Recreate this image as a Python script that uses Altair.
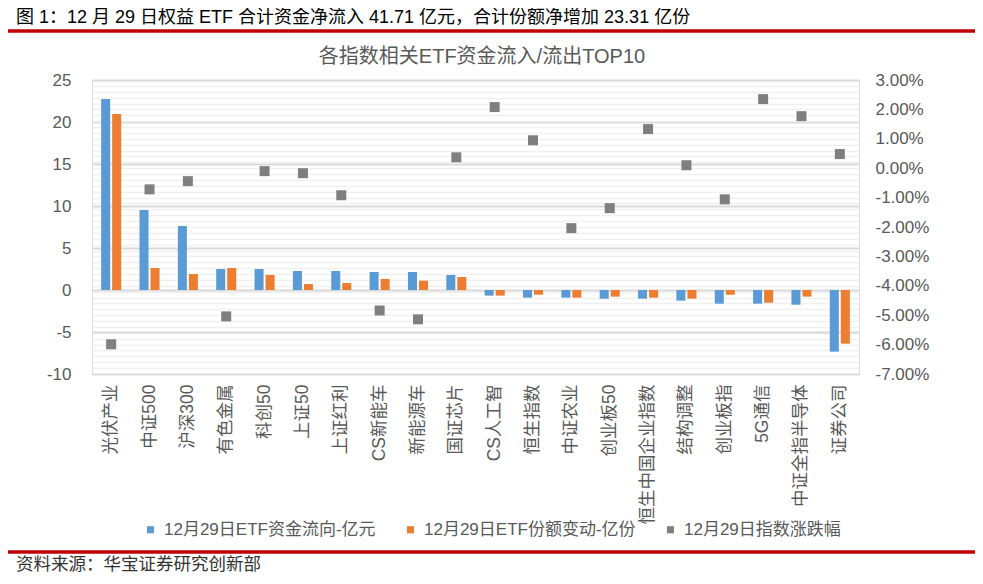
import altair as alt
import pandas as pd

# ---------------- data ----------------
categories = ["光伏产业", "中证500", "沪深300", "有色金属", "科创50", "上证50", "上证红利",
              "CS新能车", "新能源车", "国证芯片", "CS人工智", "恒生指数", "中证农业", "创业板50",
              "恒生中国企业指数", "结构调整", "创业板指", "5G通信", "中证全指半导体", "证券公司"]
fund_flow = [22.74, 9.52, 7.62, 2.50, 2.50, 2.26, 2.26, 2.14, 2.14, 1.79,
             -0.67, -0.91, -0.91, -1.03, -1.03, -1.27, -1.63, -1.63, -1.75, -7.34]
share_change = [20.95, 2.62, 1.90, 2.62, 1.79, 0.71, 0.83, 1.31, 1.11, 1.55,
                -0.67, -0.56, -0.91, -0.79, -0.91, -1.03, -0.56, -1.51, -0.79, -6.39]
index_change_pct = [-5.99, -0.72, -0.44, -5.04, -0.10, -0.17, -0.92, -4.84, -5.14, 0.37,
                    2.08, 0.95, -2.04, -1.36, 1.33, 0.10, -1.06, 2.35, 1.77, 0.48]

series_names = ["12月29日ETF资金流向-亿元", "12月29日ETF份额变动-亿份", "12月29日指数涨跌幅"]
series_colors = ["#5B9BD5", "#ED7D31", "#7F7F7F"]

header_text = "图 1：12 月 29 日权益 ETF 合计资金净流入 41.71 亿元，合计份额净增加 23.31 亿份"
chart_title = "各指数相关ETF资金流入/流出TOP10"
footer_text = "资料来源：华宝证券研究创新部"

left_major = [-10, -5, 0, 5, 10, 15, 20, 25]
right_major = [p / 100 for p in range(-7, 4)]

# ---------------- tables ----------------
bars_df = pd.DataFrame({
    "category": categories * 2,
    "series": [series_names[0]] * len(categories) + [series_names[1]] * len(categories),
    "value": fund_flow + share_change,
})
pts_df = pd.DataFrame({
    "category": categories,
    "series": [series_names[2]] * len(categories),
    "value": [v / 100 for v in index_change_pct],
})

FONT = "Liberation Sans, Noto Sans CJK SC, sans-serif"
GRAY = "#595959"

# minor grid lines follow the right axis' 0.2% steps, expressed in left-axis units
minor_vals = [round(-10 + 0.7 * k, 4) for k in range(1, 50)]
grid_vals = sorted(left_major + minor_vals)
is_major = "abs(datum.value / 5 - round(datum.value / 5)) < 0.000001"

color_scale = alt.Scale(domain=series_names, range=series_colors)
legend = alt.Legend(
    title=None, orient="none", direction="horizontal", legendX=50, legendY=441,
    symbolType="square", symbolSize=50, symbolOpacity=1, symbolStrokeWidth=0,
    labelFontSize=17, labelColor=GRAY, labelFont=FONT, labelOffset=5,
    columnPadding=26, labelLimit=400,
)

x_enc = alt.X(
    "category:N", sort=categories,
    scale=alt.Scale(paddingInner=0, paddingOuter=0),
    axis=alt.Axis(title=None, labelAngle=270, ticks=False, domain=False,
                  labelPadding=10, labelFontSize=17.5, labelColor=GRAY, labelFont=FONT,
                  labelLimit=300),
)

bars = alt.Chart(bars_df).mark_bar().encode(
    x=x_enc,
    xOffset=alt.XOffset("series:N", sort=series_names[:2],
                        scale=alt.Scale(paddingInner=0.18, paddingOuter=0.83)),
    y=alt.Y("value:Q",
            scale=alt.Scale(domain=[-10, 25], nice=False, zero=False),
            axis=alt.Axis(
                title=None, values=grid_vals, ticks=False, domain=False,
                labelOverlap=False, labelFlush=False, labelPadding=21,
                labelFontSize=17, labelColor=GRAY, labelFont=FONT,
                labelExpr=is_major + " ? ('' + round(datum.value)) : ''",
                gridColor={"condition": {"test": is_major, "value": "#d9d9d9"}, "value": "#f0f0f0"},
                gridWidth={"condition": {"test": is_major, "value": 2}, "value": 1.5},
            )),
    color=alt.Color("series:N", scale=color_scale, legend=legend),
)

points = alt.Chart(pts_df).mark_point(shape="square", filled=True, size=100, opacity=1).encode(
    x=x_enc,
    y=alt.Y("value:Q",
            scale=alt.Scale(domain=[-0.07, 0.03], nice=False, zero=False),
            axis=alt.Axis(
                title=None, orient="right", values=right_major, grid=False, ticks=False,
                domain=False, labelOverlap=False, labelFlush=False, labelPadding=16,
                labelFontSize=17, labelColor=GRAY, labelFont=FONT, format=".2%",
                labelExpr="replace(datum.label, '\u2212', '-')",
            )),
    color=alt.Color("series:N", scale=color_scale, legend=legend),
)

header = alt.Chart(pd.DataFrame({"t": [header_text]})).mark_text(
    align="left", baseline="middle", fontSize=18, font=FONT, color="#000000"
).encode(text="t:N", x=alt.value(-76), y=alt.value(-62))

title = alt.Chart(pd.DataFrame({"t": [chart_title]})).mark_text(
    align="center", baseline="middle", fontSize=20, font=FONT, color=GRAY
).encode(text="t:N", x=alt.value(390), y=alt.value(-23))

footer = alt.Chart(pd.DataFrame({"t": [footer_text]})).mark_text(
    align="left", baseline="middle", fontSize=17.5, font=FONT, color="#333333"
).encode(text="t:N", x=alt.value(-76), y=alt.value(485))

top_line = alt.Chart(pd.DataFrame({"a": [0]})).mark_rule(color="#C00000", strokeWidth=3.5).encode(
    x=alt.value(-84), x2=alt.value(883), y=alt.value(-49))
bottom_line = alt.Chart(pd.DataFrame({"a": [0]})).mark_rule(color="#C00000", strokeWidth=3.5).encode(
    x=alt.value(-84), x2=alt.value(883), y=alt.value(472))

chart = alt.layer(bars, points, header, title, footer, top_line, bottom_line).resolve_scale(
    y="independent"
).properties(
    width=767, height=294,
    autosize=alt.AutoSizeParams(type="none"),
    padding={"left": 84, "top": 72, "right": 116, "bottom": 201},
).configure_view(stroke=None).configure(font=FONT)

chart.save("out.html", embed_options={"renderer": "svg", "actions": False})
